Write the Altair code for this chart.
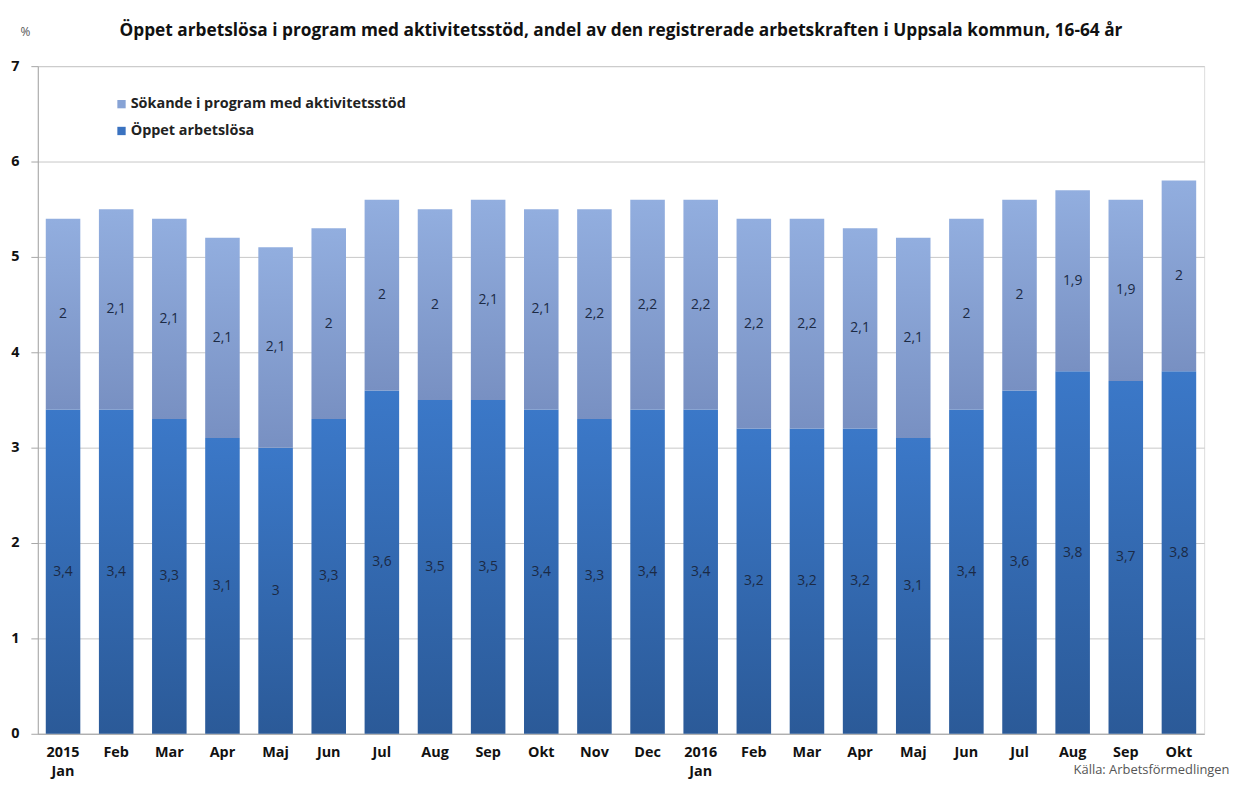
import json
import altair as alt
import pandas as pd

# x-axis tick labels (multi-line where the year starts)
labels = [["2015", "Jan"], "Feb", "Mar", "Apr", "Maj", "Jun", "Jul", "Aug", "Sep", "Okt", "Nov", "Dec",
          ["2016", "Jan"], "Feb", "Mar", "Apr", "Maj", "Jun", "Jul", "Aug", "Sep", "Okt"]
# Öppet arbetslösa (%)
oppet = [3.4, 3.4, 3.3, 3.1, 3.0, 3.3, 3.6, 3.5, 3.5, 3.4, 3.3, 3.4,
         3.4, 3.2, 3.2, 3.2, 3.1, 3.4, 3.6, 3.8, 3.7, 3.8]
# Sökande i program med aktivitetsstöd (%)
sokande = [2.0, 2.1, 2.1, 2.1, 2.1, 2.0, 2.0, 2.0, 2.1, 2.1, 2.2, 2.2,
           2.2, 2.2, 2.2, 2.1, 2.1, 2.0, 2.0, 1.9, 1.9, 2.0]
series_names = ["Sökande i program med aktivitetsstöd", "Öppet arbetslösa"]
y_ticks = [0, 1, 2, 3, 4, 5, 6, 7]

title_text = ("Öppet arbetslösa i program med aktivitetsstöd, andel av den registrerade "
              "arbetskraften i Uppsala kommun, 16-64 år")
source_text = "Källa: Arbetsförmedlingen"

FONT = "Open Sans"

df = pd.DataFrame({"idx": list(range(len(oppet))), "oppet": oppet, "sokande": sokande})
legend_df = pd.DataFrame({"series": series_names})

base = alt.Chart(df).transform_calculate(
    total="datum.oppet + datum.sokande",
    mid_open="datum.oppet / 2",
    mid_top="datum.oppet + datum.sokande / 2",
    lab_open="replace(toString(datum.oppet), '.', ',')",
    lab_top="replace(toString(datum.sokande), '.', ',')",
)

x_enc = alt.X(
    "idx:O",
    scale=alt.Scale(paddingInner=0.35, paddingOuter=0.15),
    axis=alt.Axis(
        labelExpr=f"{json.dumps(labels)}[datum.value]",
        labelAngle=0,
        labelFont=FONT,
        labelFontSize=14.5,
        labelFontWeight="bold",
        labelColor="#111111",
        labelPadding=12,
        labelLineHeight=19,
        ticks=False,
        domainColor="#a6a6a6",
        title=source_text,
        titleFont=FONT,
        titleFontSize=13,
        titleFontWeight="normal",
        titleColor="#555555",
        titleAnchor="end",
        titleAlign="right",
        titleBaseline="middle",
        titleX=1199,
        titleY=36,
    ),
)

y_axis = alt.Axis(
    values=y_ticks,
    format="d",
    title="%",
    titleAngle=0,
    titleX=-13,
    titleY=-35,
    titleAlign="center",
    titleBaseline="middle",
    titleFont=FONT,
    titleFontSize=12,
    titleFontWeight="normal",
    titleColor="#555555",
    labelFont=FONT,
    labelFontSize=14.5,
    labelFontWeight="bold",
    labelColor="#111111",
    labelPadding=12,
    tickSize=7,
    tickColor="#a6a6a6",
    domainColor="#a6a6a6",
    gridColor="#c8c8c8",
)
y_scale = alt.Scale(domain=[0, 7], nice=False)

grad_open = alt.Gradient(
    gradient="linear", x1=0, x2=0, y1=0, y2=1,
    stops=[alt.GradientStop(color="#3b78c8", offset=0),
           alt.GradientStop(color="#2b5a98", offset=1)],
)
grad_top = alt.Gradient(
    gradient="linear", x1=0, x2=0, y1=0, y2=1,
    stops=[alt.GradientStop(color="#92aedf", offset=0),
           alt.GradientStop(color="#7890c2", offset=1)],
)

bars_open = base.mark_bar(color=grad_open).encode(
    x=x_enc,
    y=alt.Y("oppet:Q", scale=y_scale, axis=y_axis),
)
bars_top = base.mark_bar(color=grad_top).encode(
    x=x_enc,
    y=alt.Y("oppet:Q", scale=y_scale, axis=y_axis),
    y2="total:Q",
)
txt_style = dict(font=FONT, fontSize=14, color="#1b2a45", baseline="middle")
text_open = base.mark_text(**txt_style).encode(
    x=x_enc,
    y=alt.Y("mid_open:Q", scale=y_scale, axis=y_axis),
    text="lab_open:N",
)
text_top = base.mark_text(**txt_style).encode(
    x=x_enc,
    y=alt.Y("mid_top:Q", scale=y_scale, axis=y_axis),
    text="lab_top:N",
)

legend_layer = alt.Chart(legend_df).mark_bar().encode(
    y=alt.datum(0),
    y2=alt.datum(0),
    color=alt.Color(
        "series:N",
        scale=alt.Scale(domain=series_names, range=["#87a3d5", "#3a72c0"]),
        legend=alt.Legend(
            title=None,
            orient="none",
            legendX=77,
            legendY=31,
            symbolType="square",
            symbolSize=70,
            symbolStrokeWidth=0,
            labelFont=FONT,
            labelFontSize=14.5,
            labelFontWeight="bold",
            labelColor="#222222",
            labelLimit=0,
            rowPadding=12,
            labelOffset=2,
        ),
    ),
)

chart = alt.layer(bars_open, bars_top, text_open, text_top, legend_layer).properties(
    width=1174,
    height=672,
    title=alt.Title(
        title_text,
        font=FONT,
        fontSize=17.4,
        fontWeight="bold",
        color="#111111",
        anchor="middle",
        offset=-14,
    ),
    autosize=alt.AutoSizeParams(type="none"),
    padding={"left": 30, "top": 56, "right": 26, "bottom": 45},
).configure_view(stroke=None).configure(background="white")

chart.save("out.html", embed_options={"renderer": "svg", "actions": False})
